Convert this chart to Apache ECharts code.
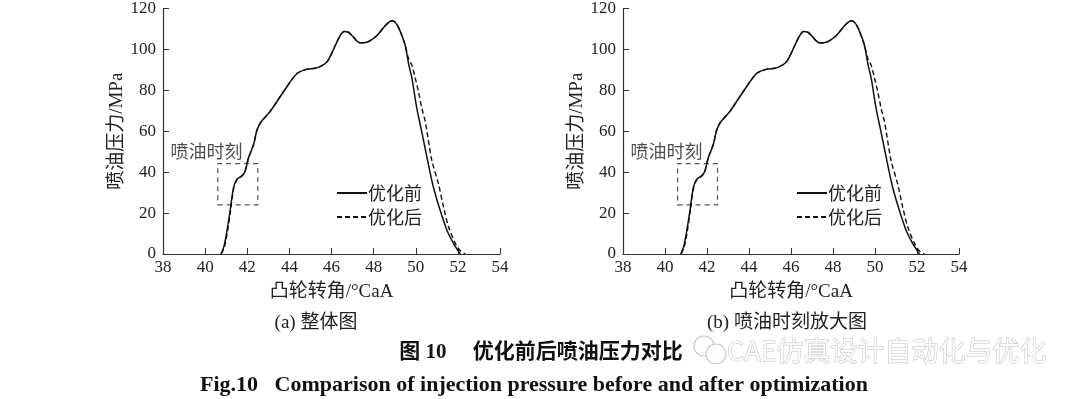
<!DOCTYPE html>
<html lang="zh">
<head>
    <meta charset="UTF-8"/>
    <script src="https://cdn.jsdelivr.net/npm/echarts@6/dist/echarts.min.js"></script>
    <title>优化前后喷油压力对比</title>
    <style>
        html, body{
            margin: 0;
            padding: 0;
            background: #fff;
        }
        #main{
            width: 1080px;
            height: 399px;
        }
    </style>
</head>
<body>
<div id="main"></div>
<script type="text/javascript">
    // 优化前 (solid)
    var angleBefore = [40.75, 40.9, 41.04, 41.19, 41.35, 41.51, 41.75, 41.9, 42.06, 42.3, 42.46, 42.65, 43.09, 43.72, 44.36, 44.83, 45.31, 45.78, 46.18, 46.4, 46.6, 46.8, 46.97, 47.36, 47.68, 48.16, 48.55, 48.87, 49.03, 49.18, 49.34, 49.5, 49.66, 49.82, 50.05, 50.3, 50.6, 50.84, 51.16, 51.48, 51.79, 52.03, 52.12];
    var pressureBefore = [0, 4, 11.6, 21.3, 32.6, 36.6, 38.2, 40.6, 47, 53.5, 60.5, 64.5, 69.7, 79.3, 88.2, 90.3, 91.0, 93.9, 101.9, 106.5, 108.8, 108.4, 106.8, 103.2, 103.5, 106.8, 111.6, 114.0, 113.2, 110.8, 106.8, 101.9, 93.0, 85.8, 71.3, 59.0, 43.9, 32.6, 21.3, 11.6, 5.2, 1.3, 0];
    // 优化后 (dashed)
    var angleAfter = [40.77, 40.92, 41.06, 41.2, 41.36, 41.52, 41.75, 41.9, 42.06, 42.3, 42.46, 42.65, 43.09, 43.72, 44.36, 44.83, 45.31, 45.78, 46.18, 46.4, 46.6, 46.8, 46.97, 47.36, 47.68, 48.16, 48.55, 48.87, 49.03, 49.18, 49.34, 49.5, 49.66, 49.82, 49.98, 50.13, 50.29, 50.45, 50.53, 50.77, 51.08, 51.32, 51.56, 51.88, 52.11, 52.35];
    var pressureAfter = [0, 3.5, 11, 20.8, 32.2, 36.4, 38.2, 40.6, 47, 53.5, 60.5, 64.5, 69.7, 79.3, 88.2, 90.3, 91.0, 93.9, 101.9, 106.5, 108.8, 108.4, 106.8, 103.2, 103.5, 106.8, 111.6, 114.0, 113.2, 110.8, 106.8, 101.9, 95.5, 92.2, 85.8, 79.3, 71.3, 64.8, 60.0, 45.5, 34.2, 22.9, 13.2, 5.2, 1.6, 0];

    var xRange = [38, 54];
    var yRange = [0, 120];
    var boxAngle = [40.6, 42.5];
    var boxPressure = [24, 44.2];
    var notePos = [40.07, 50.3];

    var serifFont = '"Liberation Serif", "Noto Sans CJK SC", serif';
    var cjkFont = '"Noto Sans CJK SC", sans-serif';

    function toPairs(xs, ys) {
        var out = [];
        for (var i = 0; i < xs.length; i++) {
            out.push([xs[i], ys[i]]);
        }
        return out;
    }

    var grids = [
        {left: 163, top: 6, width: 337, height: 248},
        {left: 623, top: 6, width: 336, height: 248}
    ];

    var xAxes = [], yAxes = [], series = [], legends = [];
    for (var g = 0; g < grids.length; g++) {
        xAxes.push({
            gridIndex: g, type: 'value', min: xRange[0], max: xRange[1], interval: 2,
            name: '凸轮转角/°CaA', nameLocation: 'middle', nameGap: 29,
            nameTextStyle: {fontFamily: serifFont, fontSize: 19, color: '#222'},
            axisLine: {lineStyle: {color: '#333', width: 1.2}},
            axisTick: {inside: true, length: 6, lineStyle: {color: '#333'}},
            axisLabel: {fontFamily: serifFont, fontSize: 17, color: '#222', margin: 5},
            splitLine: {show: false}
        });
        yAxes.push({
            gridIndex: g, type: 'value', min: yRange[0], max: yRange[1], interval: 20,
            name: '喷油压力/MPa', nameLocation: 'middle', nameGap: 33,
            nameTextStyle: {fontFamily: serifFont, fontSize: 19, color: '#222'},
            axisLine: {show: true, lineStyle: {color: '#333', width: 1.2}},
            axisTick: {show: true, inside: true, length: 6, lineStyle: {color: '#333'}},
            axisLabel: {fontFamily: serifFont, fontSize: 17, color: '#222', margin: 7},
            splitLine: {show: false}
        });
        series.push({
            name: '优化前', type: 'line', xAxisIndex: g, yAxisIndex: g,
            data: toPairs(angleBefore, pressureBefore),
            smooth: 0.3, showSymbol: false, symbol: 'none',
            lineStyle: {color: '#111', width: 1.5},
            itemStyle: {color: '#111'},
            markArea: {
                silent: true,
                itemStyle: {color: 'rgba(0,0,0,0)', borderColor: '#555', borderWidth: 1.2, borderType: [5, 4]},
                data: [[{coord: [boxAngle[0], boxPressure[0]]}, {coord: [boxAngle[1], boxPressure[1]]}]]
            }
        });
        series.push({
            name: '优化后', type: 'line', xAxisIndex: g, yAxisIndex: g,
            data: toPairs(angleAfter, pressureAfter),
            smooth: 0.3, showSymbol: false, symbol: 'none',
            lineStyle: {color: '#111', width: 1.4, type: [5, 3]},
            itemStyle: {color: '#111'}
        });
        series.push({
            type: 'scatter', xAxisIndex: g, yAxisIndex: g, silent: true,
            symbolSize: 0,
            data: [notePos],
            label: {show: true, position: 'inside', formatter: '喷油时刻',
                fontFamily: cjkFont, fontSize: 18, color: '#222'}
        });
        legends.push({
            orient: 'vertical', left: grids[g].left + 168, top: 179,
            itemWidth: 30, itemHeight: 14, itemGap: 6,
            itemStyle: {opacity: 0},
            data: ['优化前', '优化后'],
            textStyle: {fontFamily: cjkFont, fontSize: 18, color: '#222', padding: [0, 0, 0, -4]}
        });
    }

    var myChart = echarts.init(document.getElementById('main'), null, {renderer: 'canvas'});
    var option = {
        backgroundColor: '#fff',
        animation: false,
        grid: grids,
        xAxis: xAxes,
        yAxis: yAxes,
        legend: legends,
        series: series,
        graphic: [
            {type: 'text', x: 316, y: 323, style: {text: '(a) 整体图', font: '19px ' + serifFont, fill: '#222', textAlign: 'center', textVerticalAlign: 'middle'}},
            {type: 'text', x: 787, y: 323, style: {text: '(b) 喷油时刻放大图', font: '19px ' + serifFont, fill: '#222', textAlign: 'center', textVerticalAlign: 'middle'}},
            {type: 'text', x: 541, y: 353, style: {text: '图 10　 优化前后喷油压力对比', font: 'bold 21px ' + serifFont, fill: '#111', textAlign: 'center', textVerticalAlign: 'middle'}},
            {type: 'text', x: 534, y: 385, style: {text: 'Fig.10   Comparison of injection pressure before and after optimization', font: 'bold 22px ' + serifFont, fill: '#111', textAlign: 'center', textVerticalAlign: 'middle'}},
            {type: 'circle', shape: {cx: 704, cy: 346, r: 10}, style: {fill: 'rgba(255,255,255,0.6)', stroke: '#c8c8c8', lineWidth: 1.2}},
            {type: 'circle', shape: {cx: 716, cy: 354, r: 10}, style: {fill: 'rgba(255,255,255,0.8)', stroke: '#c8c8c8', lineWidth: 1.2}},
            {type: 'text', x: 727, y: 351, style: {text: 'CAE仿真设计自动化与优化', font: '27px ' + cjkFont, fill: '#fbfbfb', stroke: '#c2c2c2', lineWidth: 1, textAlign: 'left', textVerticalAlign: 'middle'}}
        ]
    };
    myChart.setOption(option);
</script>
</body>
</html>
